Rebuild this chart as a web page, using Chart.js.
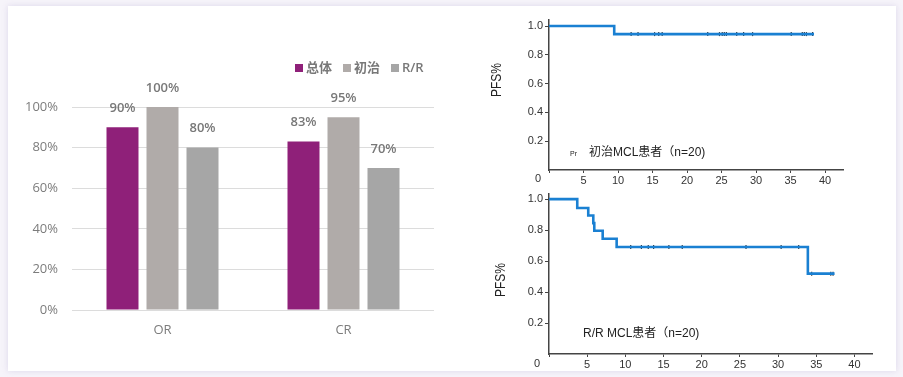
<!DOCTYPE html>
<html lang="zh">
<head>
  <meta charset="UTF-8">
  <title>OR / CR 与 PFS</title>
  <script src="https://cdn.jsdelivr.net/npm/chart.js"></script>
  <style>
    html, body { margin: 0; padding: 0; background: #f6f4fa; }
    body { width: 903px; height: 377px; position: relative; overflow: hidden; }
    .card {
      position: absolute; left: 8px; top: 6px; width: 888px; height: 365px;
      background: #fff; box-shadow: 0 0 6px rgba(190, 180, 215, 0.45);
    }
    canvas { position: absolute; }
  </style>
</head>
<body>
  <div class="card"></div>
  <canvas id="barChart" width="460" height="377" style="left:0;top:0"></canvas>
  <canvas id="kmNaive" width="420" height="192" style="left:470px;top:0"></canvas>
  <canvas id="kmRR" width="420" height="192" style="left:470px;top:185px"></canvas>

  <script>
    // bar chart data
    const categories = ['OR', 'CR'];
    const seriesNames = ['总体', '初治', 'R/R'];
    const overall = [90, 83];
    const naive = [100, 95];
    const relapsed = [80, 70];
    const barColors = ['#8f2079', '#b0aba9', '#a6a6a6'];

    // Kaplan-Meier curves: [time, survival] at each step
    const naiveCurve = [[0, 1], [9.45, 0.944], [38.4, 0.944]];
    const naiveCensor = [11.9, 12.9, 15.3, 15.9, 16.4, 23.0, 24.7, 25.1, 25.4, 25.7, 27.2, 28.2, 29.5, 35.1, 36.7, 37.0, 37.3, 38.2];
    const rrCurve = [[0, 1], [3.7, 0.943], [5.14, 0.895], [5.8, 0.845], [5.93, 0.796], [7.03, 0.744], [8.86, 0.691], [33.9, 0.519], [37.4, 0.519]];
    const rrCensor = [10.7, 12.1, 13.0, 13.7, 15.7, 17.45, 25.8, 30.4, 32.7, 34.4, 36.9, 37.2];

    const grayText = '#787878';
    const barFont = '"Open Sans", "Noto Sans CJK SC", sans-serif';
    const kmFont = '"Liberation Sans", "Noto Sans CJK SC", sans-serif';

    // value labels above bars + legend
    const barExtras = {
      id: 'barExtras',
      afterDatasetsDraw(chart) {
        const ctx = chart.ctx;
        ctx.save();
        ctx.fillStyle = grayText;
        ctx.font = '600 13px ' + barFont;
        ctx.textAlign = 'center';
        ctx.textBaseline = 'middle';
        chart.data.datasets.forEach((ds, i) => {
          chart.getDatasetMeta(i).data.forEach((bar, j) => {
            ctx.fillText(ds.data[j] + '%', bar.x, bar.y - 19);
          });
        });
        // legend
        let x = 295;
        const y = 68;
        ctx.textAlign = 'left';
        chart.data.datasets.forEach(ds => {
          ctx.fillStyle = ds.backgroundColor;
          ctx.fillRect(x, y - 4, 8, 8);
          ctx.fillStyle = grayText;
          ctx.fillText(ds.label, x + 11, y);
          x += 11 + ctx.measureText(ds.label).width + 11;
        });
        ctx.restore();
      }
    };

    new Chart(document.getElementById('barChart'), {
      type: 'bar',
      data: {
        labels: categories,
        datasets: [
          { label: seriesNames[0], data: overall, backgroundColor: barColors[0] },
          { label: seriesNames[1], data: naive, backgroundColor: barColors[1] },
          { label: seriesNames[2], data: relapsed, backgroundColor: barColors[2] }
        ]
      },
      options: {
        responsive: false,
        animation: false,
        devicePixelRatio: 1,
        layout: { padding: { top: 107, right: 26, bottom: 27, left: 0 } },
        datasets: { bar: { barPercentage: 0.8, categoryPercentage: 0.663 } },
        plugins: { legend: { display: false }, tooltip: { enabled: false } },
        scales: {
          x: {
            grid: { display: false },
            border: { display: false },
            ticks: { color: '#7c7c7c', font: { family: barFont, size: 13 }, padding: 4 },
            afterFit: s => { s.height = 40; }
          },
          y: {
            min: 0, max: 100,
            ticks: { stepSize: 20, callback: v => v + '%', color: '#7c7c7c', font: { family: barFont, size: 13 }, padding: 14 },
            grid: { color: '#dcdcdc', drawTicks: false },
            border: { display: false },
            afterFit: s => { s.width = 72; }
          }
        }
      },
      plugins: [barExtras]
    });

    // rotated axis title, group note, corner "0"
    const kmText = {
      id: 'kmText',
      afterDraw(chart, args, opts) {
        const ctx = chart.ctx;
        ctx.save();
        ctx.fillStyle = '#222';
        ctx.textBaseline = 'middle';
        // y title
        ctx.save();
        ctx.translate(opts.titleX, opts.titleY);
        ctx.rotate(-Math.PI / 2);
        ctx.scale(0.86, 1);
        ctx.textAlign = 'center';
        ctx.font = '14px ' + kmFont;
        ctx.fillText('PFS%', 0, 0);
        ctx.restore();
        // note
        ctx.textAlign = 'left';
        if (opts.tag) {
          ctx.font = '7px ' + kmFont;
          ctx.fillText(opts.tag, opts.tagX, opts.noteY + 1);
        }
        ctx.font = '12px ' + kmFont;
        ctx.fillText(opts.note, opts.noteX, opts.noteY);
        // origin label
        ctx.fillStyle = '#333';
        ctx.textAlign = 'center';
        ctx.font = '11px ' + kmFont;
        ctx.fillText('0', opts.zeroX, opts.zeroY);
        ctx.restore();
      }
    };

    function levelAt(curve, t) {
      let y = curve[0][1];
      curve.forEach(([x, v]) => { if (x <= t) y = v; });
      return y;
    }

    function kmChart(id, curve, censor, xMax, yMax, padding, text) {
      return new Chart(document.getElementById(id), {
        type: 'scatter',
        data: {
          datasets: [
            {
              data: curve.map(([x, y]) => ({ x, y })),
              showLine: true, stepped: 'before',
              borderColor: '#1a80d2', borderWidth: 2.6,
              pointRadius: 0, clip: false
            },
            {
              data: censor.map(t => ({ x: t, y: levelAt(curve, t) })),
              pointStyle: 'line', rotation: 90, pointRadius: 2,
              borderColor: '#333', borderWidth: 1.2, clip: false
            }
          ]
        },
        options: {
          responsive: false,
          animation: false,
          devicePixelRatio: 1,
          layout: { padding },
          plugins: { legend: { display: false }, tooltip: { enabled: false }, kmText: text },
          scales: {
            x: {
              type: 'linear', min: 0, max: xMax,
              ticks: { stepSize: 5, includeBounds: false, callback: v => v === 0 ? '' : v, color: '#333', font: { family: kmFont, size: 11 }, padding: 1, maxRotation: 0 },
              grid: { drawOnChartArea: false, tickLength: 3, color: '#444' },
              border: { color: '#444', width: 1.5 },
              afterFit: s => { s.height = 22; }
            },
            y: {
              min: 0, max: yMax,
              afterBuildTicks: s => { s.ticks = s.ticks.filter(t => t.value > 0.01); },
              ticks: { stepSize: 0.2, includeBounds: false, callback: v => v.toFixed(1), color: '#333', font: { family: kmFont, size: 11 }, padding: 2 },
              grid: { drawOnChartArea: false, tickLength: 4, color: '#444' },
              border: { color: '#444', width: 1.5 },
              afterFit: s => { s.width = 79; }
            }
          }
        },
        plugins: [kmText]
      });
    }

    kmChart('kmNaive', naiveCurve, naiveCensor, 42.6, 1.042,
      { top: 20, right: 47, bottom: 0, left: 0 },
      { titleX: 27, titleY: 80, tag: 'Pr', tagX: 100, note: '初治MCL患者（n=20)', noteX: 119, noteY: 153, zeroX: 68, zeroY: 179 });

    kmChart('kmRR', rrCurve, rrCensor, 42.3, 1.036,
      { top: 5, right: 18, bottom: 1, left: 0 },
      { titleX: 31, titleY: 95, tag: '', note: 'R/R MCL患者（n=20)', noteX: 113, noteY: 149, zeroX: 67, zeroY: 179 });
  </script>
</body>
</html>
